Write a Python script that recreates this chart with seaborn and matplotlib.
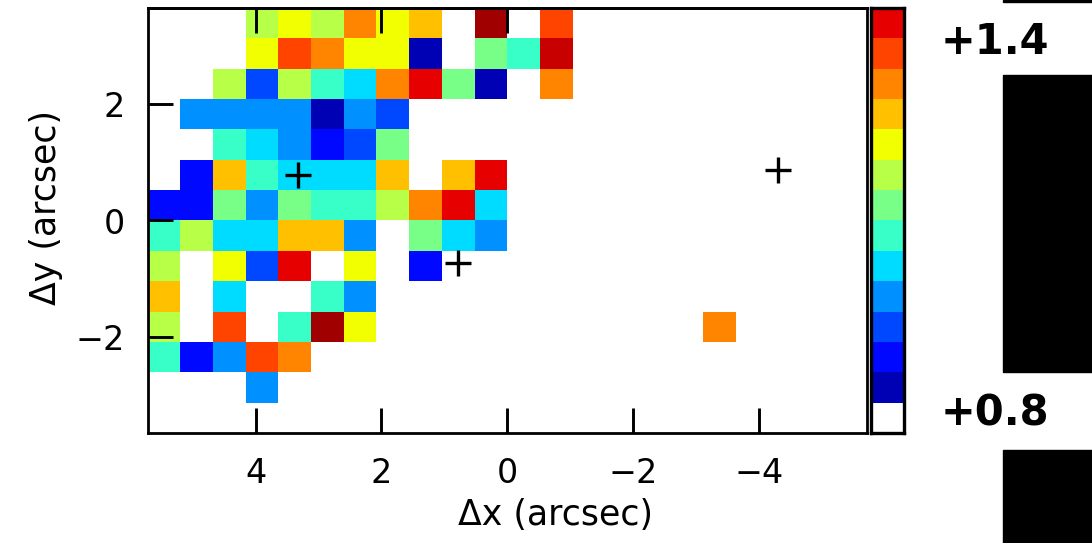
import numpy as np
import pandas as pd
import matplotlib
matplotlib.use("Agg")
import matplotlib.pyplot as plt
from matplotlib.colors import ListedColormap, BoundaryNorm
from matplotlib.patches import Rectangle
import seaborn as sns

# ---------------- data ----------------
PIX = 0.52            # arcsec per spaxel
N_COLS, N_ROWS = 22, 14
_ = np.nan

# map values, rows from top (dy=+3.4") to bottom, columns from left (dx=+5.5") to right
row00 = [_, _, _, 1.16, 1.21, 1.16, 1.29, 1.21, 1.25, _, 1.45, _, 1.34]
row01 = [_, _, _, 1.21, 1.34, 1.29, 1.21, 1.21, 0.86, _, 1.12, 1.08, 1.41]
row02 = [_, _, 1.16, 0.95, 1.16, 1.08, 1.04, 1.29, 1.38, 1.12, 0.86, _, 1.29]
row03 = [_, 0.99, 0.99, 0.99, 0.99, 0.86, 0.99, 0.95]
row04 = [_, _, 1.08, 1.04, 0.99, 0.91, 0.95, 1.12]
row05 = [_, 0.91, 1.25, 1.08, 1.04, 1.04, 1.04, 1.25, _, 1.25, 1.38]
row06 = [0.91, 0.91, 1.12, 0.99, 1.12, 1.08, 1.08, 1.16, 1.29, 1.38, 1.04]
row07 = [1.08, 1.16, 1.04, 1.04, 1.25, 1.25, 0.99, _, 1.12, 1.04, 0.99]
row08 = [1.16, _, 1.21, 0.95, 1.38, _, 1.21, _, 0.91]
row09 = [1.25, _, 1.04, _, _, 1.08, 0.99]
row10 = [1.16, _, 1.34, _, 1.08, 1.45, 1.21, _, _, _, _, _, _, _, _, _, _, 1.29]
row11 = [1.08, 0.91, 0.99, 1.34, 1.29]
row12 = [_, _, _, 0.99]
row13 = []
ROWS = [row00, row01, row02, row03, row04, row05, row06,
        row07, row08, row09, row10, row11, row12, row13]

# colour scale
CBAR_MIN, CBAR_MAX, N_BINS = 0.8, 1.4, 14
OVER_EDGES = [1.43, 1.50]
BIN_COLORS = ["#ffffff", "#0000b4", "#0008ff", "#0048ff", "#0090ff", "#00dcff",
              "#38ffc8", "#78ff88", "#b8ff48", "#f2ff00", "#ffc000", "#ff8400",
              "#ff4400", "#e60000", "#c80000", "#a00000"]
CBAR_LABELS = ["+1.4", "+0.8"]

# reference positions (arcsec)
CROSS_DX = [3.33, 0.78, -4.30]
CROSS_DY = [0.78, -0.73, 0.87]

X_TICKS = [4, 2, 0, -2, -4]
X_TOP_TICKS = [4, 2, 0]
Y_TICKS = [2, 0, -2]
X_LABEL = "Δx (arcsec)"
Y_LABEL = "Δy (arcsec)"

# ---------------- build ----------------
grid = np.array([r + [_] * (N_COLS - len(r)) for r in ROWS], dtype=float)
dx_centers = (N_COLS / 2 - 0.5 - np.arange(N_COLS)) * PIX
dy_centers = (N_ROWS / 2 - 0.5 - np.arange(N_ROWS)) * PIX
df = pd.DataFrame(grid, index=np.round(dy_centers, 2), columns=np.round(dx_centers, 2))

edges = list(np.linspace(CBAR_MIN, CBAR_MAX, N_BINS + 1)) + OVER_EDGES
cmap = ListedColormap(BIN_COLORS)
norm = BoundaryNorm(edges, ncolors=len(BIN_COLORS))


def to_col(x):
    return N_COLS / 2 - np.asarray(x, dtype=float) / PIX


def to_row(y):
    return N_ROWS / 2 - np.asarray(y, dtype=float) / PIX


def fmt(t):
    return f"{t:g}".replace("-", "\u2212")


sns.set_style("white")
plt.rcParams["font.family"] = ["DejaVu Sans"]
plt.rcParams["axes.unicode_minus"] = True
plt.rcParams["axes.axisbelow"] = False
plt.rcParams["text.color"] = "black"
plt.rcParams["axes.labelcolor"] = "black"

W, H = 1092, 543
fig = plt.figure(figsize=(W / 100, H / 100), dpi=100)
L, R, T, B = 147.5, 867.0, 8.0, 433.0
ax = fig.add_axes([L / W, 1 - B / H, (R - L) / W, (B - T) / H])
cax = fig.add_axes([871 / W, 1 - B / H, 33 / W, (B - T) / H])

sns.heatmap(df, ax=ax, cmap=cmap, norm=norm, cbar=False,
            xticklabels=False, yticklabels=False, linewidths=0)
ax.set_axisbelow(False)

ax.plot(to_col(CROSS_DX), to_row(CROSS_DY), linestyle="none", marker="+",
        markersize=19, markeredgewidth=2.4, color="black", zorder=5)

ax.set_xlim(0, N_COLS)
ax.set_ylim(N_ROWS, 0)
ax.set_xticks(to_col(X_TICKS))
ax.set_xticklabels([fmt(t) for t in X_TICKS])
ax.set_yticks(to_row(Y_TICKS))
ax.set_yticklabels([fmt(t) for t in Y_TICKS])
ax.tick_params(direction="in", length=18, width=2.1, top=False, right=False,
               bottom=True, left=True, labelsize=24, colors="black")
ax.tick_params(axis="x", pad=17)
ax.tick_params(axis="y", pad=16)
for s in ax.spines.values():
    s.set_visible(True)
    s.set_linewidth(2.0)
    s.set_color("black")
    s.set_zorder(6)

top = ax.secondary_xaxis("top")
top.set_zorder(7)
top.set_xticks(to_col(X_TOP_TICKS))
top.set_xticklabels([])
top.tick_params(direction="in", length=18, width=2.1, colors="black")
top.spines["top"].set_linewidth(2.0)
top.spines["top"].set_color("black")

ax.set_xlabel(X_LABEL, fontsize=25, color="black")
ax.set_ylabel(Y_LABEL, fontsize=25, color="black")
ax.xaxis.set_label_coords((556 - L) / (R - L), -0.152)
ax.yaxis.set_label_coords(-0.118, 0.53)

# colour bar drawn as a one-column heatmap of the bin centres
centers = (np.array(edges[:N_BINS]) + np.array(edges[1:N_BINS + 1])) / 2
cbar_df = pd.DataFrame(centers[::-1].reshape(-1, 1))
sns.heatmap(cbar_df, ax=cax, cmap=cmap, norm=norm, cbar=False,
            xticklabels=False, yticklabels=False, linewidths=0)
cax.set_xticks([])
cax.set_yticks([])
for s in cax.spines.values():
    s.set_visible(True)
    s.set_linewidth(2.4)
    s.set_color("black")

fig.text(941 / W, 1 - 42 / H, CBAR_LABELS[0], fontsize=30, fontweight="bold",
         family="DejaVu Sans", ha="left", va="center", color="black")
fig.text(941 / W, 1 - 414 / H, CBAR_LABELS[1], fontsize=30, fontweight="bold",
         family="DejaVu Sans", ha="left", va="center", color="black")

# black blocks at the right edge of the reference image
for (x0, y0, x1, y1) in [(1003, 0, 1092, 2), (1003, 75, 1092, 372), (1003, 450, 1092, 543)]:
    fig.patches.append(Rectangle((x0 / W, 1 - y1 / H), (x1 - x0) / W, (y1 - y0) / H,
                                 transform=fig.transFigure, color="black", zorder=10))

fig.savefig("out.png", dpi=100)
